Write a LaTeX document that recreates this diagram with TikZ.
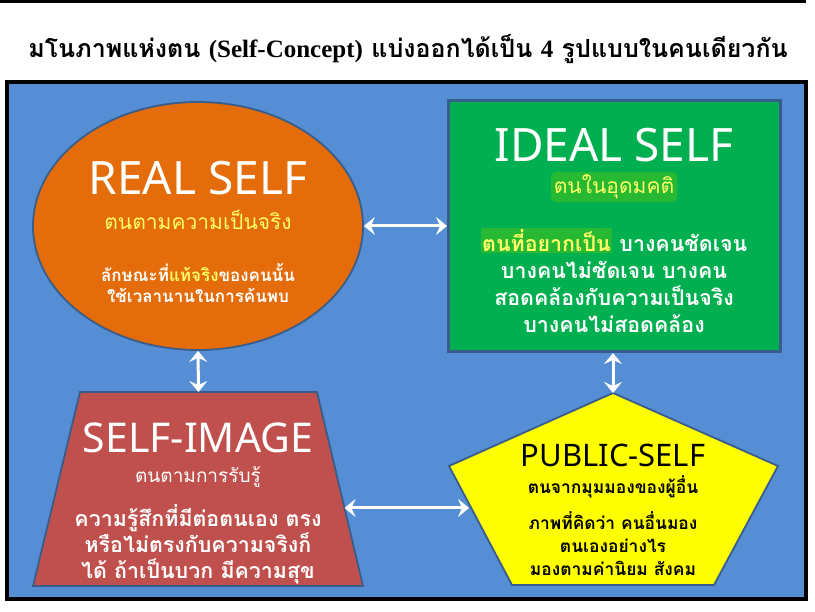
\documentclass[tikz,border=0pt]{standalone}
\usepackage{fontspec}
\newfontfamily\thai[Script=Thai]{Loma}
\newfontfamily\latn{Noto Sans}
\newfontfamily\serifb{Liberation Serif}
\usetikzlibrary{arrows.meta,shapes.geometric}
\definecolor{bgblue}{RGB}{85,142,213}
\definecolor{bord}{RGB}{56,93,138}
\definecolor{orangefill}{RGB}{228,108,10}
\definecolor{greenfill}{RGB}{0,176,80}
\definecolor{redfill}{RGB}{192,80,77}
\definecolor{yelfill}{RGB}{255,255,0}
\definecolor{yeltext}{RGB}{255,255,102}
\definecolor{glow}{RGB}{40,185,50}
\tikzset{
  bigtitle/.style={font=\latn\fontsize{46}{46}\selectfont, inner sep=0},
  subtxt/.style={font=\thai\fontsize{21}{26}\selectfont, inner sep=0, align=center},
  bodytxt/.style={font=\thai\bfseries\fontsize{21.4}{27}\selectfont, inner sep=0, align=center},
  smalltxt/.style={font=\thai\bfseries\fontsize{17.4}{23}\selectfont, inner sep=0, align=center},
  realtxt/.style={font=\thai\bfseries\fontsize{17}{21}\selectfont, inner sep=0, align=center},
  dblarrow/.style={white, line width=3pt, {Stealth[length=11pt,width=18pt,inset=4pt]}-{Stealth[length=11pt,width=18pt,inset=4pt]}},
  shapeline/.style={draw=bord, line width=1.8pt}
}
\begin{document}
\begin{tikzpicture}[x=1pt,y=-1pt]
\useasboundingbox (0,0) rectangle (815,612);
\fill[white] (0,0) rectangle (815,612);
\fill[black] (0,0) rectangle (806,3);
% title
\node[inner sep=0, font=\thai\bfseries\fontsize{25}{25}\selectfont] (title) at (408,49)
  {มโนภาพแห่งตน {\serifb\bfseries (Self-Concept)} แบ่งออกได้เป็น {\serifb\bfseries 4} รูปแบบในคนเดียวกัน};
% frame
\draw[black, line width=4pt, fill=bgblue] (7,82) rectangle (806,599);
% real self ellipse
\node[ellipse, shapeline, fill=orangefill, minimum width=330pt, minimum height=248pt, inner sep=0] (real) at (198,226) {};
% ideal self rectangle
\node[draw=bord, line width=3pt, fill=greenfill, minimum width=332pt, minimum height=251pt, inner sep=0] (ideal) at (614.5,226) {};
% self-image trapezoid
\coordinate (tTL) at (80,392);
\coordinate (tTR) at (317,392);
\coordinate (tBR) at (363,586);
\coordinate (tBL) at (33,586);
\coordinate (tTop) at (198.5,392);
\coordinate (tRight) at (344.5,508);
\draw[shapeline, fill=redfill] (tTL) -- (tTR) -- (tBR) -- (tBL) -- cycle;
% public self pentagon
\coordinate (pT) at (613,393);
\coordinate (pR) at (778,466);
\coordinate (pBR) at (714,585);
\coordinate (pBL) at (512,585);
\coordinate (pL) at (449,466);
\coordinate (pLeft) at (469,508);
\draw[shapeline, fill=yelfill] (pT) -- (pR) -- (pBR) -- (pBL) -- (pL) -- cycle;
% arrows
\draw[dblarrow] (real.east) -- (ideal.west);
\draw[dblarrow] (real.south) -- (tTop);
\draw[dblarrow] (ideal.south -| pT) -- (pT);
\draw[dblarrow] (tRight) -- (pLeft);
% texts real
\node[bigtitle, white] (realt) at (198,178) {REAL SELF};
\node[subtxt, text=yeltext] (reals) at (198,220) {ตนตามความเป็นจริง};
\node[realtxt, white] (realb) at (198,283) {ลักษณะที่{\color{yeltext}แท้จริง}ของคนนั้น\\ใช้เวลานานในการค้นพบ};
% texts ideal
\node[bigtitle, white] (idealt) at (614,145) {IDEAL SELF};
\node[subtxt, text=yeltext, fill=glow, rounded corners=6pt, inner sep=3pt] (ideals) at (614,187) {ตนในอุดมคติ};
\node[bodytxt, white] (idealb) at (614,280) {\setlength{\fboxsep}{1.5pt}\colorbox{glow}{\color{yeltext}ตนที่อยากเป็น} บางคนชัดเจน\\บางคนไม่ชัดเจน บางคน\\สอดคล้องกับความเป็นจริง\\บางคนไม่สอดคล้อง};
% texts self-image
\node[font=\latn\fontsize{41}{41}\selectfont, inner sep=0, white] (imaget) at (198,438) {SELF-IMAGE};
\node[font=\thai\fontsize{19}{19}\selectfont, inner sep=0, white] (images) at (198,477) {ตนตามการรับรู้};
\node[bodytxt, white, font=\thai\bfseries\fontsize{21.4}{26}\selectfont] (imageb) at (198,544) {ความรู้สึกที่มีต่อตนเอง ตรง\\หรือไม่ตรงกับความจริงก็\\ได้ ถ้าเป็นบวก มีความสุข};
% texts public
\node[font=\latn\fontsize{31}{31}\selectfont, inner sep=0, black] (publict) at (613,455) {PUBLIC-SELF};
\node[smalltxt, black] (publics) at (613,487) {ตนจากมุมมองของผู้อื่น};
\node[smalltxt, black] (publicb) at (613,544) {ภาพที่คิดว่า คนอื่นมอง\\ตนเองอย่างไร\\มองตามค่านิยม สังคม};
\end{tikzpicture}
\end{document}
